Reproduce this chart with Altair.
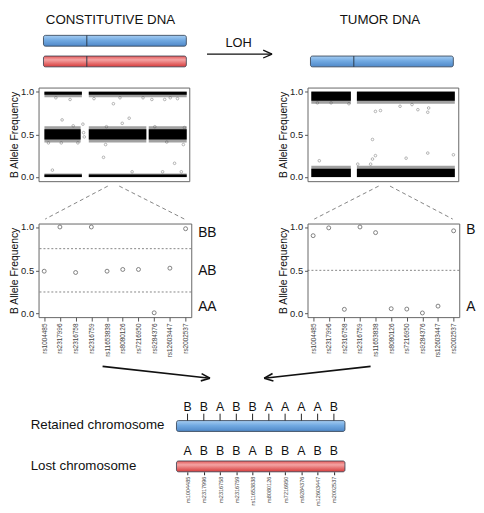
import altair as alt
import pandas as pd

# ---------------- data ----------------
snps = ["rs1004485", "rs2317996", "rs2316758", "rs2316759", "rs11653838",
        "rs8080126", "rs7216950", "rs9284376", "rs12603447", "rs2002537"]
baf_constitutive = [0.49, 1.00, 0.475, 1.00, 0.49, 0.51, 0.51, 0.01, 0.525, 0.98]
baf_tumor = [0.90, 0.99, 0.05, 1.00, 0.935, 0.057, 0.053, 0.008, 0.087, 0.956]
retained_alleles = ["B", "B", "A", "B", "B", "A", "A", "A", "A", "B"]
lost_alleles = ["A", "B", "B", "B", "A", "B", "B", "A", "B", "B"]

geno_labels_const = ["BB", "AB", "AA"]
geno_pos_const = [0.93, 0.494, 0.076]
geno_labels_tumor = ["B", "A"]
geno_pos_tumor = [0.97, 0.076]
thresholds_const = [0.25, 0.75]
thresholds_tumor = [0.5]

# dense BAF clusters along the chromosome (Mb): start, end, dense core, sparse spread
const_seg_start = [1.4, 27.0, 1.4, 27.0, 61.6, 1.4, 27.0]
const_seg_end = [23.0, 83.5, 22.3, 60.2, 83.5, 23.0, 83.5]
const_core_lo = [0.965, 0.965, 0.44, 0.44, 0.44, 0.0, 0.0]
const_core_hi = [1.0, 1.0, 0.56, 0.56, 0.56, 0.028, 0.028]
const_sprd_lo = [0.935, 0.935, 0.405, 0.405, 0.405, -0.004, -0.004]
const_sprd_hi = [1.005, 1.005, 0.595, 0.595, 0.595, 0.04, 0.04]

tumor_seg_start = [0.2, 26.5, 0.2, 26.5]
tumor_seg_end = [23.0, 83.0, 23.0, 83.0]
tumor_core_lo = [0.895, 0.895, 0.0, 0.0]
tumor_core_hi = [1.0, 1.0, 0.095, 0.095]
tumor_sprd_lo = [0.86, 0.86, -0.005, -0.005]
tumor_sprd_hi = [1.006, 1.006, 0.13, 0.13]

# isolated SNPs away from the dense clusters
const_out_pos = [16.2, 58.3, 63.4, 70.8, 78.2, 41.2, 11.6, 50.3, 46.3, 37.2, 3.7, 11.1,
                 20.7, 36.7, 65.1, 82.2, 81.6, 23.6, 35.5, 76.5, 6.0, 52.0, 69.6, 80.4,
                 24.0, 24.4, 30.0, 45.0, 8.0, 74.0, 72.0, 18.0]
const_out_baf = [0.91, 0.93, 0.91, 0.91, 0.92, 0.86, 0.67, 0.69, 0.63, 0.59, 0.40, 0.40,
                 0.40, 0.38, 0.59, 0.58, 0.38, 0.62, 0.23, 0.16, 0.08, 0.06, 0.06, 0.06,
                 0.52, 0.47, 0.92, 0.93, 0.93, 0.93, 0.41, 0.60]
tumor_out_pos = [3.7, 11.6, 21.9, 51.4, 58.3, 61.7, 67.9, 37.2, 40.1, 67.4, 35.5, 37.2,
                 35.5, 54.9, 67.4, 82.2, 34.4, 4.8, 27.0]
tumor_out_baf = [0.87, 0.87, 0.86, 0.83, 0.85, 0.79, 0.81, 0.77, 0.78, 0.76, 0.44, 0.25,
                 0.21, 0.22, 0.28, 0.26, 0.15, 0.19, 0.15]

# ---------------- styling / layout ----------------
FONT = "Liberation Sans"
FULL_W = 468
BLUE = alt.Gradient(gradient="linear", x1=0, x2=0, y1=0, y2=1,
                    stops=[alt.GradientStop(color="#a6cdf2", offset=0),
                           alt.GradientStop(color="#72aae2", offset=0.45),
                           alt.GradientStop(color="#4f88c8", offset=1)])
RED = alt.Gradient(gradient="linear", x1=0, x2=0, y1=0, y2=1,
                   stops=[alt.GradientStop(color="#e45a5a", offset=0),
                          alt.GradientStop(color="#f4a3a3", offset=0.35),
                          alt.GradientStop(color="#d63a3a", offset=1)])
EDGE = "#2c3a4a"


def cx():
    return alt.Scale(domain=[10, 478], nice=False, zero=False)


def cy(y0, y1):
    return alt.Scale(domain=[y0, y1], nice=False, zero=False, reverse=True)


def spacer(w, top, bottom, h):
    # invisible box that fixes the extent of a row
    return alt.Chart(pd.DataFrame({"a": [0]})).mark_rect(opacity=0).encode(
        x=alt.value(-2), x2=alt.value(w), y=alt.value(top), y2=alt.value(bottom)).properties(width=w, height=h)


def anchor():
    return alt.Chart(pd.DataFrame({"a": [0]})).mark_rect(opacity=0).encode(
        x=alt.value(-2), x2=alt.value(0), y=alt.value(1), y2=alt.value(2))


def rules(df, y0, y1, **kw):
    return alt.Chart(df).mark_rule(**kw).encode(
        x=alt.X("x0:Q", scale=cx(), axis=None), x2="x1:Q",
        y=alt.Y("y0:Q", scale=cy(y0, y1), axis=None), y2="y1:Q")


def yaxis():
    return alt.Axis(values=[0, 0.5, 1], format=".1f", tickSize=3, labelPadding=2,
                    domain=False, grid=False, title="B Allele Frequency", titlePadding=1,
                    labelFontSize=9.5, titleFontSize=10.5, titleFontWeight="normal",
                    tickColor="#555", labelColor="#222", titleColor="#111")


# ---------- row 1: titles, chromosomes, LOH arrow (page y 13..84) ----------
H0, H1 = 13, 84
titles = pd.DataFrame({"x": [111, 384.5], "y": [20, 20], "t": ["CONSTITUTIVE DNA", "TUMOR DNA"]})
t_layer = alt.Chart(titles).mark_text(fontSize=13.5, font=FONT, color="#111", baseline="middle").encode(
    x=alt.X("x:Q", scale=cx(), axis=None), y=alt.Y("y:Q", scale=cy(H0, H1), axis=None), text="t:N")
loh = alt.Chart(pd.DataFrame({"x": [241], "y": [44], "t": ["LOH"]})).mark_text(
    fontSize=13, font=FONT, color="#111", baseline="middle").encode(
    x=alt.X("x:Q", scale=cx(), axis=None), y=alt.Y("y:Q", scale=cy(H0, H1), axis=None), text="t:N")
blue_top = pd.DataFrame({"x0": [43, 314], "x1": [188, 459], "y0": [36, 57], "y1": [47, 68]})
red_top = pd.DataFrame({"x0": [43], "x1": [188], "y0": [57], "y1": [68]})


def chrom_rect(df, fill, y0, y1):
    return alt.Chart(df).mark_rect(fill=fill, stroke=EDGE, strokeWidth=0.8, cornerRadius=2).encode(
        x=alt.X("x0:Q", scale=cx(), axis=None), x2="x1:Q",
        y=alt.Y("y0:Q", scale=cy(y0, y1), axis=None), y2="y1:Q")


centromeres = pd.DataFrame({"x0": [87, 87, 358], "x1": [87, 87, 358], "y0": [36, 57, 57], "y1": [47, 68, 68]})
loh_arrow = pd.DataFrame({"x0": [209, 275, 275], "x1": [275, 266, 266], "y0": [55, 55, 55], "y1": [55, 51, 59]})
header = alt.layer(
    anchor(), t_layer, loh,
    chrom_rect(blue_top, BLUE, H0, H1), chrom_rect(red_top, RED, H0, H1),
    rules(centromeres, H0, H1, color=EDGE, strokeWidth=1),
    rules(loh_arrow, H0, H1, color="#111", strokeWidth=1.3),
).properties(width=FULL_W, height=H1 - H0)


# ---------- row 2: genome-wide BAF panels (page y 87..182) ----------
def wide_panel(start, end, clo, chi, slo, shi, opos, obaf, width):
    seg = pd.DataFrame({"start": start, "end": end, "clo": clo, "chi": chi, "slo": slo, "shi": shi})
    pts = pd.DataFrame({"pos": opos, "baf": obaf})
    xs = alt.Scale(domain=[-2, 85], nice=False, zero=False)
    ysc = alt.Scale(domain=[-0.05, 1.05], nice=False, zero=False)
    spread = alt.Chart(seg).mark_rect(color="#444", opacity=0.5).encode(
        x=alt.X("start:Q", scale=xs, axis=None), x2="end:Q",
        y=alt.Y("slo:Q", scale=ysc, axis=yaxis()), y2="shi:Q")
    core = alt.Chart(seg).mark_rect(color="#000").encode(
        x=alt.X("start:Q", scale=xs, axis=None), x2="end:Q",
        y=alt.Y("clo:Q", scale=ysc, axis=yaxis()), y2="chi:Q")
    outl = alt.Chart(pts).mark_point(shape="circle", filled=False, size=7, color="#555", strokeWidth=0.6).encode(
        x=alt.X("pos:Q", scale=xs, axis=None), y=alt.Y("baf:Q", scale=ysc, axis=yaxis()))
    return alt.layer(spread, core, outl).properties(
        width=width, height=95, view=alt.ViewBackground(stroke="#666", strokeWidth=1))


row2 = alt.hconcat(
    spacer(28, -3, 97, 95),
    wide_panel(const_seg_start, const_seg_end, const_core_lo, const_core_hi, const_sprd_lo, const_sprd_hi,
               const_out_pos, const_out_baf, 153),
    spacer(120, 0, 95, 95),
    wide_panel(tumor_seg_start, tumor_seg_end, tumor_core_lo, tumor_core_hi, tumor_sprd_lo, tumor_sprd_hi,
               tumor_out_pos, tumor_out_baf, 153),
    spacing=0, bounds="flush")

# ---------- row 3: zoom connectors (page y 184..219.5) ----------
C0, C1 = 184, 219.5
zoom_lines = pd.DataFrame({"x0": [108.3, 119.9, 383.2, 394.7], "x1": [44.7, 186.1, 317.8, 458.4],
                           "y0": [185, 185, 185, 185], "y1": [218.5, 218.5, 218.5, 218.5]})
connectors = alt.layer(
    anchor(), rules(zoom_lines, C0, C1, color="#777", strokeWidth=0.9, strokeDash=[4, 3])
).properties(width=FULL_W, height=C1 - C0)


# ---------- row 4: SNP genotype panels (page y 222..317) ----------
def geno_panel(baf, thresholds, labs, labpos, width):
    df = pd.DataFrame({"snp": snps, "baf": baf})
    X = alt.X("snp:N", sort=snps, scale=alt.Scale(type="point", padding=0.36),
              axis=alt.Axis(labelAngle=270, labelFontSize=6.5, tickSize=4, labelPadding=2, domain=False,
                            title=None, labelOverlap=False, tickColor="#555", labelColor="#444"))
    ysc = alt.Scale(domain=[-0.04, 1.04], nice=False, zero=False)
    thr = alt.Chart(pd.DataFrame({"t": thresholds})).mark_rule(
        strokeDash=[2, 2], color="#666", strokeWidth=0.8).encode(y=alt.Y("t:Q", scale=ysc, axis=yaxis()))
    pts = alt.Chart(df).mark_point(shape="circle", filled=False, size=16, color="#222", strokeWidth=0.8).encode(
        x=X, y=alt.Y("baf:Q", scale=ysc, axis=yaxis()))
    labels = alt.Chart(pd.DataFrame({"lab": labs, "p": labpos})).mark_text(
        align="left", baseline="middle", fontSize=14, font=FONT, color="#111").encode(
        x=alt.value(width + 7), y=alt.Y("p:Q", scale=ysc, axis=yaxis()), text="lab:N")
    return alt.layer(thr, pts, labels).properties(
        width=width, height=95, view=alt.ViewBackground(stroke="#666", strokeWidth=1))


row4 = alt.hconcat(
    spacer(28, -2.5, 140, 95),
    geno_panel(baf_constitutive, thresholds_const, geno_labels_const, geno_pos_const, 155),
    spacer(118, 0, 95, 95),
    geno_panel(baf_tumor, thresholds_tumor, geno_labels_tumor, geno_pos_tumor, 154),
    spacing=0, bounds="flush")

# ---------- row 5: arrows (page y 362..395) ----------
A0, A1 = 362, 395
arrow_lines = pd.DataFrame({
    "x0": [103, 212, 212, 375, 267, 267],
    "x1": [212, 203.5, 202.7, 267, 276.4, 275.5],
    "y0": [365, 377, 377, 365, 377, 377],
    "y1": [377, 372.3, 379.7, 377, 379.8, 372.2]})
arrows = alt.layer(
    anchor(), rules(arrow_lines, A0, A1, color="#111", strokeWidth=1.6)
).properties(width=FULL_W, height=A1 - A0)

# ---------- row 6: haplotype chromosomes (page y 395..470) ----------
B0, B1 = 395, 470
BW = 171
bx = alt.X("snp:N", sort=snps, scale=alt.Scale(type="point", padding=0.68),
           axis=alt.Axis(labelAngle=270, labelFontSize=5.6, tickSize=3, labelPadding=1.5, domain=False,
                         title=None, labelOverlap=False, tickColor="#222", labelColor="#444"))
bys = cy(B0, B1)
hap = pd.DataFrame({"snp": snps, "ret": retained_alleles, "lost": lost_alleles,
                    "ly1": [404] * 10, "ly2": [449] * 10, "t0": [411] * 10, "t1": [418] * 10})
let1 = alt.Chart(hap).mark_text(fontSize=12.5, font=FONT, color="#111", baseline="middle").encode(
    x=bx, y=alt.Y("ly1:Q", scale=bys, axis=None), text="ret:N")
let2 = alt.Chart(hap).mark_text(fontSize=12.5, font=FONT, color="#111", baseline="middle").encode(
    x=bx, y=alt.Y("ly2:Q", scale=bys, axis=None), text="lost:N")
ticks1 = alt.Chart(hap).mark_rule(color="#222", strokeWidth=1).encode(
    x=bx, y=alt.Y("t0:Q", scale=bys, axis=None), y2="t1:Q")
bars = pd.DataFrame({"y0": [418, 459], "y1": [429, 470]})
bar_blue = alt.Chart(bars.iloc[[0]]).mark_rect(fill=BLUE, stroke=EDGE, strokeWidth=0.8, cornerRadius=2).encode(
    x=alt.value(0), x2=alt.value(BW), y=alt.Y("y0:Q", scale=bys, axis=None), y2="y1:Q")
bar_red = alt.Chart(bars.iloc[[1]]).mark_rect(fill=RED, stroke=EDGE, strokeWidth=0.8, cornerRadius=2).encode(
    x=alt.value(0), x2=alt.value(BW), y=alt.Y("y0:Q", scale=bys, axis=None), y2="y1:Q")
names = pd.DataFrame({"y": [423, 464.5], "t": ["Retained chromosome", "Lost chromosome"]})
name_layer = alt.Chart(names).mark_text(align="left", baseline="middle", fontSize=13.5, font=FONT,
                                        color="#111").encode(
    x=alt.value(30 - 178), y=alt.Y("y:Q", scale=bys, axis=None), text="t:N")
hap_chart = alt.layer(bar_blue, bar_red, ticks1, let1, let2, name_layer).properties(width=BW, height=B1 - B0)
row6 = alt.hconcat(spacer(168, 0, 75, 75), hap_chart, spacing=0, bounds="flush")

chart = alt.vconcat(header, row2, connectors, row4, arrows, row6, spacing=0, padding=0).configure(
    font=FONT).configure_view(stroke="transparent").configure_axis(labelFont=FONT, titleFont=FONT)

chart.save("out.html", embed_options={"renderer": "svg", "actions": False})
